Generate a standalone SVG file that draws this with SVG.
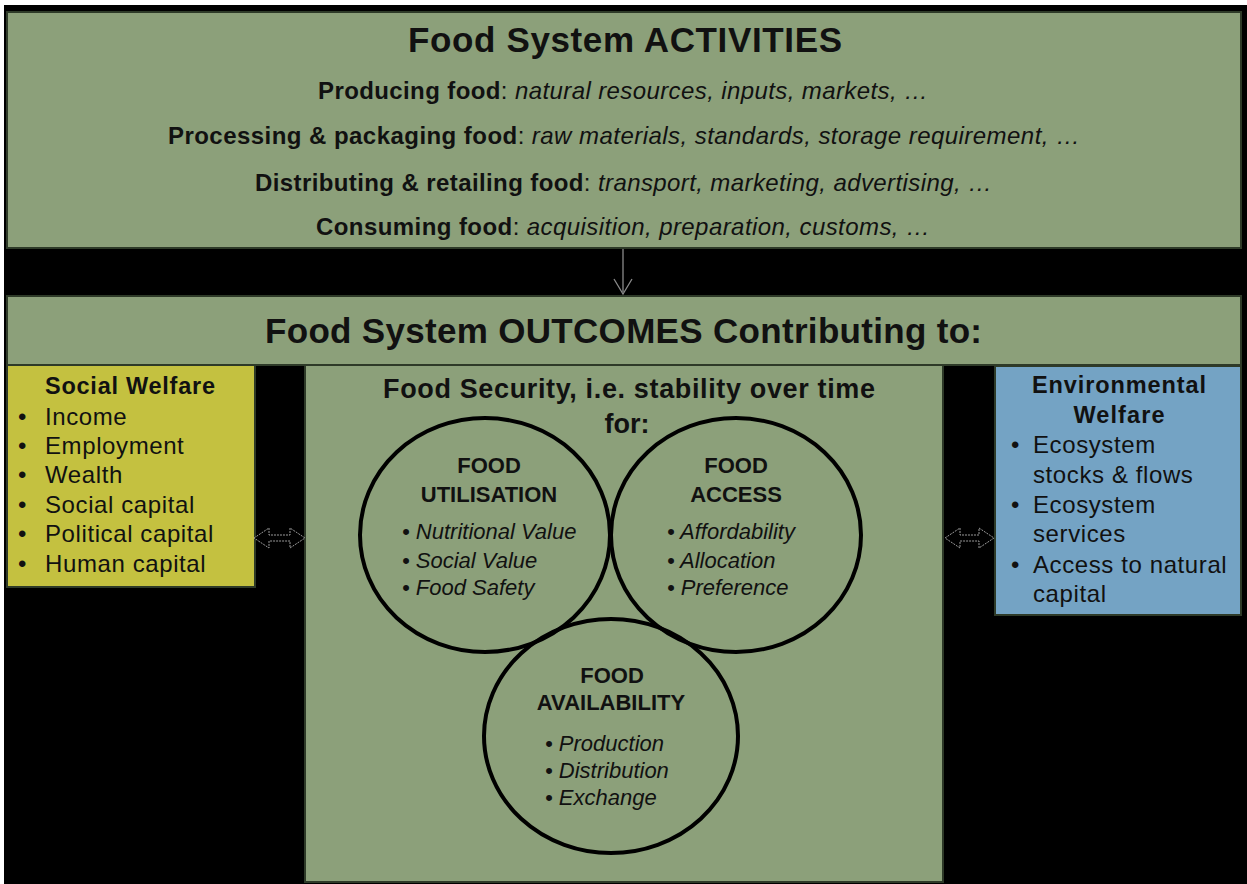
<svg xmlns="http://www.w3.org/2000/svg" width="1247" height="884" viewBox="0 0 1247 884">
  <style>
    .panel { fill: #8ca07a; stroke: #2e3a28; stroke-width: 2; }
    .social { fill: #c4c140; stroke: #2e3a28; stroke-width: 2; }
    .env { fill: #74a3c4; stroke: #2e3a28; stroke-width: 2; }
    .ring { fill: none; stroke: #000; stroke-width: 4; }
    text { font-family: "Liberation Sans", Arial, sans-serif; fill: #111; }
    .title { font-size: 35px; font-weight: bold; }
    .act { font-size: 24px; }
    .b { font-weight: bold; }
    .i { font-style: italic; }
    .sub { font-size: 27px; font-weight: bold; }
    .ctitle { font-size: 22px; font-weight: bold; text-anchor: middle; }
    .citem { font-size: 22px; font-style: italic; }
    .box-title { font-size: 23.5px; font-weight: bold; }
    .item { font-size: 24px; letter-spacing: 0.6px; }
    .arrow { fill: #000; stroke: #9a9a9a; stroke-width: 1; stroke-dasharray: 2 1; }
    .down { fill: none; stroke: #8a8a8a; stroke-width: 1.3; }
  </style>

  <!-- page background -->
  <rect x="0" y="0" width="1247" height="884" fill="#ffffff"/>
  <rect x="4" y="5" width="1243" height="879" fill="#000000"/>

  <!-- activities panel -->
  <g id="activities">
    <rect class="panel" x="7" y="12" width="1234" height="236"/>
    <text class="title" x="408" y="52" textLength="434">Food System ACTIVITIES</text>
    <text class="act" x="318" y="99" textLength="610"><tspan class="b">Producing food</tspan>: <tspan class="i">natural resources, inputs, markets, …</tspan></text>
    <text class="act" x="168" y="144" textLength="912"><tspan class="b">Processing &amp; packaging food</tspan>: <tspan class="i">raw materials, standards, storage requirement, …</tspan></text>
    <text class="act" x="255" y="191" textLength="737"><tspan class="b">Distributing &amp; retailing food</tspan>: <tspan class="i">transport, marketing, advertising, …</tspan></text>
    <text class="act" x="316" y="235" textLength="614"><tspan class="b">Consuming food</tspan>: <tspan class="i">acquisition, preparation, customs, …</tspan></text>
  </g>

  <!-- outcomes header band -->
  <g id="outcomes">
    <rect class="panel" x="7" y="296" width="1234" height="69"/>
    <text class="title" x="265" y="343" textLength="717">Food System OUTCOMES Contributing to:</text>
  </g>

  <!-- social welfare -->
  <g id="social-welfare">
    <rect class="social" x="7" y="365" width="248" height="222"/>
    <text class="box-title" x="45" y="394" textLength="170">Social Welfare</text>
    <g class="item">
      <text x="18" y="425">•</text><text class="item" x="45" y="425">Income</text>
      <text x="18" y="454">•</text><text class="item" x="45" y="454">Employment</text>
      <text x="18" y="483">•</text><text class="item" x="45" y="483">Wealth</text>
      <text x="18" y="513">•</text><text class="item" x="45" y="513">Social capital</text>
      <text x="18" y="542">•</text><text class="item" x="45" y="542">Political capital</text>
      <text x="18" y="572">•</text><text class="item" x="45" y="572">Human capital</text>
    </g>
  </g>

  <!-- food security -->
  <g id="food-security">
    <rect class="panel" x="305" y="365" width="638" height="517"/>
    <text class="sub" x="383" y="398" textLength="492">Food Security, i.e. stability over time</text>
    <text class="sub" x="627" y="433" text-anchor="middle">for:</text>
  </g>

  <g id="food-utilisation">
    <ellipse class="ring" cx="485" cy="535" rx="125" ry="117"/>
    <text class="ctitle" x="489" y="473">FOOD</text>
    <text class="ctitle" x="489" y="502">UTILISATION</text>
    <text class="citem" x="402" y="539">• Nutritional Value</text>
    <text class="citem" x="402" y="568">• Social Value</text>
    <text class="citem" x="402" y="595">• Food Safety</text>
  </g>

  <g id="food-access">
    <ellipse class="ring" cx="736" cy="535" rx="125" ry="117"/>
    <text class="ctitle" x="736" y="473">FOOD</text>
    <text class="ctitle" x="736" y="502">ACCESS</text>
    <text class="citem" x="667" y="539">• Affordability</text>
    <text class="citem" x="667" y="568">• Allocation</text>
    <text class="citem" x="667" y="595">• Preference</text>
  </g>

  <g id="food-availability">
    <ellipse class="ring" cx="611" cy="736" rx="127" ry="117"/>
    <text class="ctitle" x="612" y="683">FOOD</text>
    <text class="ctitle" x="611" y="710">AVAILABILITY</text>
    <text class="citem" x="545" y="751">• Production</text>
    <text class="citem" x="545" y="778">• Distribution</text>
    <text class="citem" x="545" y="805">• Exchange</text>
  </g>

  <!-- environmental welfare -->
  <g id="environmental-welfare">
    <rect class="env" x="995" y="366" width="246" height="249"/>
    <text class="box-title" x="1119" y="393" text-anchor="middle" textLength="174">Environmental</text>
    <text class="box-title" x="1119" y="423" text-anchor="middle" textLength="91">Welfare</text>
    <text class="item" x="1011" y="453">•</text><text class="item" x="1033" y="453">Ecosystem</text>
    <text class="item" x="1033" y="483">stocks &amp; flows</text>
    <text class="item" x="1011" y="513">•</text><text class="item" x="1033" y="513">Ecosystem</text>
    <text class="item" x="1033" y="542">services</text>
    <text class="item" x="1011" y="573">•</text><text class="item" x="1033" y="573">Access to natural</text>
    <text class="item" x="1033" y="602">capital</text>
  </g>

  <!-- connectors -->
  <g id="connectors">
    <line class="down" x1="623" y1="249" x2="623" y2="292"/>
    <polyline class="down" points="614,279 623,294 632,279"/>
    <path class="arrow" d="M254,538 L269,528 L269,535 L290,535 L290,528 L305,538 L290,548 L290,541 L269,541 L269,548 Z"/>
    <path class="arrow" d="M945,538 L960,528 L960,535 L979,535 L979,528 L994,538 L979,548 L979,541 L960,541 L960,548 Z"/>
  </g>
</svg>
